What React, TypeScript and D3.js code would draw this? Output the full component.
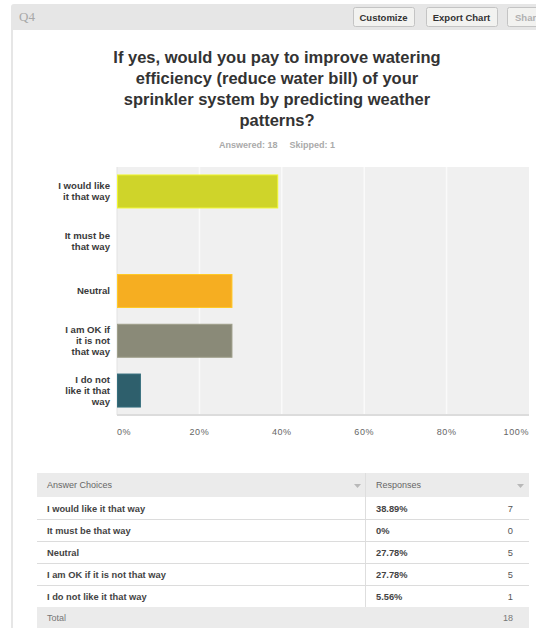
import React from "react";
import * as d3 from "d3";

const questionId = "Q4";
const titleLines = [
  "If yes, would you pay to improve watering",
  "efficiency (reduce water bill) of your",
  "sprinkler system by predicting weather",
  "patterns?",
];
const answered = 18;
const skipped = 1;
const categories = [
  "I would like it that way",
  "It must be that way",
  "Neutral",
  "I am OK if it is not that way",
  "I do not like it that way",
];
const labelLines = [
  ["I would like", "it that way"],
  ["It must be", "that way"],
  ["Neutral"],
  ["I am OK if", "it is not", "that way"],
  ["I do not", "like it that", "way"],
];
const percents = [38.89, 0, 27.78, 27.78, 5.56];
const percentText = ["38.89%", "0%", "27.78%", "27.78%", "5.56%"];
const counts = [7, 0, 5, 5, 1];
const barColors = ["#cfd42a", "#6f9fc8", "#f6ae21", "#8a8a78", "#2e5f6c"];
const ticks = [0, 20, 40, 60, 80, 100];
const total = 18;

const FONT = "'Liberation Sans', Arial, sans-serif";

export default function App() {
  const x = d3.scaleLinear().domain([0, 100]).range([117, 529]);
  const y = d3
    .scaleBand<string>()
    .domain(categories)
    .range([167, 415])
    .paddingInner(0.337)
    .paddingOuter(0.16);

  const rowTop = 497;
  const rowH = 22;

  return (
    <svg
      width={536}
      height={628}
      style={{ position: "absolute", left: 0, top: 0, fontFamily: FONT }}
    >
      <rect x={0} y={0} width={536} height={628} fill="#ffffff" />
      {/* header band */}
      <path d="M11,628 L11,7 Q11,4 14,4 L536,4 L536,30 L13,30 L13,628 Z" fill="#e6e6e6" />
      <text x={19} y={21} fontFamily="'Liberation Serif', serif" fontSize={13} fill="#a8a8a8">
        {questionId}
      </text>
      {[
        { x0: 353, x1: 414, label: "Customize", c: "#333" },
        { x0: 426, x1: 497, label: "Export Chart", c: "#333" },
        { x0: 507, x1: 560, label: "Share", c: "#b0b0b0" },
      ].map((b) => (
        <g key={b.label}>
          <rect
            x={b.x0 + 0.5}
            y={7.5}
            width={b.x1 - b.x0}
            height={19}
            rx={2}
            fill="#f2f2f0"
            stroke="#c4c4c4"
          />
          <text
            x={b.label === "Share" ? b.x0 + 8 : (b.x0 + b.x1) / 2}
            y={21}
            textAnchor={b.label === "Share" ? "start" : "middle"}
            fontSize={9.5}
            fontWeight="bold"
            fill={b.c}
          >
            {b.label}
          </text>
        </g>
      ))}

      {/* title */}
      {titleLines.map((t, i) => (
        <text
          key={i}
          x={277}
          y={63 + i * 21}
          textAnchor="middle"
          fontSize={16.5}
          fontWeight="bold"
          fill="#333333"
        >
          {t}
        </text>
      ))}
      <text x={277} y={148} textAnchor="middle" fontSize={9} fontWeight="bold" fill="#aaaaaa">
        {`Answered: ${answered}`}
        <tspan dx={12}>{`Skipped: ${skipped}`}</tspan>
      </text>

      {/* plot area */}
      <rect x={x(0)} y={167} width={x(100) - x(0)} height={248} fill="#f0f0f0" />
      {ticks.slice(1, -1).map((t) => (
        <line key={t} x1={x(t)} x2={x(t)} y1={167} y2={415} stroke="#fafafa" strokeWidth={1.5} />
      ))}
      <line x1={x(0)} x2={x(0)} y1={167} y2={415} stroke="#e2e2e2" strokeWidth={1} />
      <line x1={x(0)} x2={x(100)} y1={415} y2={415} stroke="#dcdcdc" strokeWidth={2} />
      {categories.map((c, i) =>
        percents[i] > 0 ? (
          <rect
            key={c}
            x={x(0) + 0.5}
            y={y(c)!}
            width={x(percents[i]) - x(0)}
            height={y.bandwidth()}
            fill={barColors[i]}
            stroke={d3.color(barColors[i])!.brighter(0.4).formatHex()}
            strokeWidth={1}
          />
        ) : null
      )}
      {categories.map((c, i) => {
        const cy = y(c)! + y.bandwidth() / 2;
        const n = labelLines[i].length;
        return (
          <text key={c} textAnchor="end" fontSize={9.6} fontWeight="bold" fill="#3a3a3a">
            {labelLines[i].map((l, j) => (
              <tspan key={j} x={110} y={cy + (j - (n - 1) / 2) * 11 + 3.4}>
                {l}
              </tspan>
            ))}
          </text>
        );
      })}
      {ticks.map((t, i) => (
        <text
          key={t}
          x={x(t)}
          y={435}
          textAnchor={i === 0 ? "start" : i === ticks.length - 1 ? "end" : "middle"}
          fontSize={9}
          letterSpacing={0.6}
          fill="#666666"
        >
          {`${t}%`}
        </text>
      ))}

      {/* table */}
      <rect x={37} y={473} width={492} height={24} fill="#ebebeb" />
      <text x={47} y={488} fontSize={9} fill="#666">Answer Choices</text>
      <text x={376} y={488} fontSize={9} fill="#666">Responses</text>
      <path d="M354,484 L361,484 L357.5,488 Z" fill="#b8b8b8" />
      <path d="M517,484 L524,484 L520.5,488 Z" fill="#b8b8b8" />
      <line x1={365.5} x2={365.5} y1={473} y2={607} stroke="#dedede" />
      {categories.map((c, i) => {
        const top = rowTop + i * rowH;
        return (
          <g key={c}>
            <line x1={37} x2={529} y1={top + rowH + 0.5} y2={top + rowH + 0.5} stroke="#dcdcdc" />
            <text x={47} y={top + 14.5} fontSize={9.3} fontWeight="bold" fill="#444">
              {c}
            </text>
            <text x={376} y={top + 14.5} fontSize={9.3} fontWeight="bold" fill="#444">
              {percentText[i]}
            </text>
            <text x={513} y={top + 14.5} textAnchor="end" fontSize={9.3} fill="#555">
              {counts[i]}
            </text>
          </g>
        );
      })}
      <rect x={37} y={607} width={492} height={21} fill="#ebebeb" />
      <text x={47} y={621} fontSize={9} fill="#777">Total</text>
      <text x={513} y={621} textAnchor="end" fontSize={9} fill="#777">{total}</text>
    </svg>
  );
}
